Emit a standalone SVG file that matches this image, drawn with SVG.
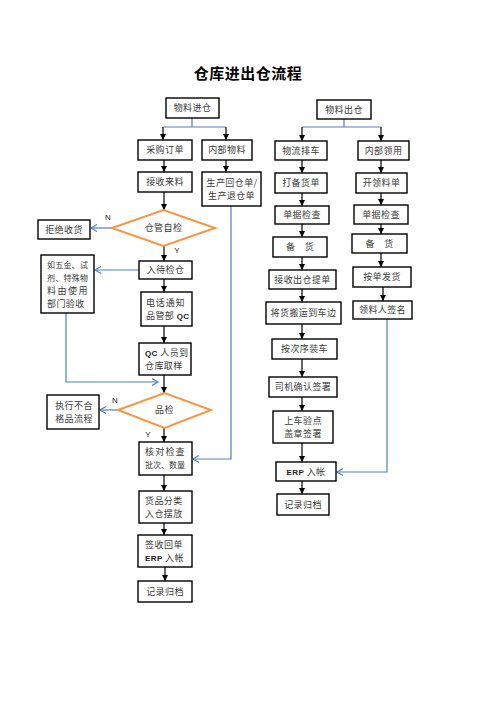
<svg xmlns="http://www.w3.org/2000/svg" width="496" height="702" viewBox="0 0 496 702">
<defs>
<marker id="ab" markerUnits="userSpaceOnUse" markerWidth="7" markerHeight="7" refX="6" refY="3" orient="auto"><path d="M0,0 L6,3 L0,6 z" fill="#000"/></marker>
<marker id="ao" markerUnits="userSpaceOnUse" markerWidth="9" markerHeight="9" refX="6.5" refY="4" orient="auto"><path d="M0.5,0.5 L6.5,4 L0.5,7.5" fill="none" stroke="#4F81BD" stroke-width="1.2"/></marker>
<style>
.node rect{fill:#fff;stroke:#000;stroke-width:1.4}
.dia{fill:#fff;stroke:#F79646;stroke-width:2}
text{font-family:"Noto Sans CJK SC","Noto Sans",sans-serif;font-size:9px;fill:#3a3a3a;text-anchor:middle;letter-spacing:0.4px}
.l{text-anchor:start}
.s{font-size:8px;letter-spacing:0}
.lat{font-family:"Liberation Sans",sans-serif;font-weight:bold;font-size:8px;fill:#222}
.lab{font-family:"Liberation Sans",sans-serif;font-size:8px;fill:#222}
.title{font-size:15px;font-weight:bold;fill:#000;letter-spacing:0.5px}
.k{fill:none;stroke:#000;stroke-width:1.2;marker-end:url(#ab)}
.b{fill:none;stroke:#4F81BD;stroke-width:1.2;marker-end:url(#ao)}
.bl{fill:none;stroke:#4F81BD;stroke-width:1.2}
</style>
</defs>
<rect width="496" height="702" fill="#fff"/>
<text class="title" x="248" y="79">仓库进出仓流程</text>

<g id="connectors">
<path class="bl" d="M192,118 V127 M163,127 H226"/>
<path class="k" d="M163,127 V140"/>
<path class="k" d="M226,127 V140"/>
<path class="k" d="M226,160 V172"/>
<path class="k" d="M164,160 V172"/>
<path class="k" d="M164,192 V210"/>
<path class="k" d="M164,246 V261"/>
<path class="k" d="M164,279 V292"/>
<path class="k" d="M164,326 V343"/>
<path class="k" d="M164,375 V393"/>
<path class="k" d="M164,428 V442"/>
<path class="k" d="M164,475 V491"/>
<path class="k" d="M164,523 V535"/>
<path class="k" d="M165,567 V581"/>
<path class="bl" d="M344,119 V127 M302,127 H381"/>
<path class="k" d="M302,127 V141"/>
<path class="k" d="M381,127 V141"/>
<path class="k" d="M302,160 V173"/>
<path class="k" d="M302,193 V206"/>
<path class="k" d="M302,224 V237"/>
<path class="k" d="M302,257 V270"/>
<path class="k" d="M302,289 V302"/>
<path class="k" d="M302,324 V339"/>
<path class="k" d="M302,359 V377"/>
<path class="k" d="M302,397 V411"/>
<path class="k" d="M302,443 V462"/>
<path class="k" d="M302,481 V494"/>
<path class="k" d="M381,160 V173"/>
<path class="k" d="M381,193 V205"/>
<path class="k" d="M381,224 V234"/>
<path class="k" d="M381,253 V267"/>
<path class="k" d="M383,287 V301"/>
<path class="b" d="M231,206 V459 H193"/>
<path class="b" d="M112,228 H91"/>
<path class="b" d="M139,270 H95"/>
<path class="b" d="M66,313 V382 H158"/>
<path class="b" d="M118,410 H100"/>
<path class="b" d="M387,319 V472 H337"/>
<text class="lab" x="108" y="220">N</text>
<text class="lab" x="177" y="253">Y</text>
<text class="lab" x="115" y="403">N</text>
<text class="lab" x="148" y="437">Y</text>
</g>

<g id="n-wljc" class="node"><rect x="166" y="98" width="53" height="20"/><text x="192.5" y="111.3">物料进仓</text></g>
<g id="n-cgdd" class="node"><rect x="138" y="140" width="54" height="20"/><text x="165" y="153.3">采购订单</text></g>
<g id="n-nbwl" class="node"><rect x="202" y="140" width="50" height="20"/><text x="227" y="153.3">内部物料</text></g>
<g id="n-jsll" class="node"><rect x="138" y="172" width="54" height="20"/><text x="165" y="185.3">接收来料</text></g>
<g id="n-schcd" class="node"><rect x="202" y="172" width="59" height="34"/><text x="232" y="185.5">生产回仓单/</text><text x="231.5" y="198.8">生产退仓单</text></g>
<g id="n-cgzj" class="node"><polygon class="dia" points="112,228 163.5,210 215,228 163.5,246"/><text x="163.5" y="231.3">仓管自检</text></g>
<g id="n-jjsh" class="node"><rect x="38" y="220" width="52" height="19"/><text x="64" y="232.8">拒绝收货</text></g>
<g id="n-rwj" class="node"><rect x="41" y="255" width="53" height="58"/><text class="l s" x="47" y="267.5" textLength="41" lengthAdjust="spacing">如五金、试</text><text class="l s" x="47" y="280.5" textLength="41" lengthAdjust="spacing">剂、特殊物</text><text class="l" x="47" y="293.5" textLength="41" lengthAdjust="spacing">料由使用</text><text class="l" x="47" y="306.5">部门验收</text></g>
<g id="n-rdjc" class="node"><rect x="139" y="261" width="53" height="18"/><text x="165.5" y="273.3">入待检仓</text></g>
<g id="n-dhtz" class="node"><rect x="141" y="292" width="51" height="34"/><text class="l" x="146" y="305.8" textLength="39" lengthAdjust="spacing">电话通知</text><text class="l" x="146" y="318.8">品管部 <tspan class="lat">QC</tspan></text></g>
<g id="n-qcry" class="node"><rect x="139" y="343" width="52" height="32"/><text class="l" x="145" y="355.8"><tspan class="lat">QC</tspan> 人员到</text><text class="l" x="145" y="368.8">仓库取样</text></g>
<g id="n-pj" class="node"><polygon class="dia" points="118,410 164.5,393 211,410 164.5,428"/><text x="164.5" y="413.3">品检</text></g>
<g id="n-zxbh" class="node"><rect x="47" y="395" width="52" height="34"/><text x="74" y="408.8">执行不合</text><text x="74" y="421.8">格品流程</text></g>
<g id="n-hdjc" class="node"><rect x="139" y="442" width="53" height="33"/><text class="l" x="145" y="455.3" textLength="40" lengthAdjust="spacing">核对检查</text><text class="l s" x="145" y="468.3" textLength="40" lengthAdjust="spacing">批次、数量</text></g>
<g id="n-hpfl" class="node"><rect x="139" y="491" width="53" height="32"/><text class="l" x="145" y="503.8">货品分类</text><text class="l" x="145" y="516.8">入仓摆放</text></g>
<g id="n-qshd" class="node"><rect x="138" y="535" width="54" height="32"/><text class="l" x="145" y="548.3" textLength="38" lengthAdjust="spacing">签收回单</text><text class="l" x="145" y="561.3"><tspan class="lat">ERP</tspan> 入帐</text></g>
<g id="n-jlgd1" class="node"><rect x="138" y="581" width="54" height="21"/><text x="165" y="594.5">记录归档</text></g>

<g id="n-wlcc" class="node"><rect x="317" y="100" width="54" height="19"/><text x="344" y="112.8">物料出仓</text></g>
<g id="n-wlpc" class="node"><rect x="275" y="141" width="52" height="19"/><text x="301" y="153.8">物流排车</text></g>
<g id="n-nbly" class="node"><rect x="358" y="141" width="51" height="19"/><text x="383.5" y="153.8">内部领用</text></g>
<g id="n-dbhd" class="node"><rect x="275" y="173" width="52" height="20"/><text x="301" y="186.3">打备货单</text></g>
<g id="n-klld" class="node"><rect x="356" y="173" width="51" height="20"/><text x="381.5" y="186.3">开领料单</text></g>
<g id="n-djjc1" class="node"><rect x="275" y="206" width="54" height="18"/><text x="302" y="218.3">单据检查</text></g>
<g id="n-djjc2" class="node"><rect x="354" y="205" width="54" height="19"/><text x="381" y="217.8">单据检查</text></g>
<g id="n-bh1" class="node"><rect x="273" y="237" width="54" height="20"/><text x="300" y="250.3">备　货</text></g>
<g id="n-bh2" class="node"><rect x="352" y="234" width="55" height="19"/><text x="379.5" y="246.8">备　货</text></g>
<g id="n-jsccd" class="node"><rect x="269" y="270" width="67" height="19"/><text x="302.5" y="282.8">接收出仓提单</text></g>
<g id="n-adfh" class="node"><rect x="353" y="267" width="58" height="20"/><text x="382" y="280.3">按单发货</text></g>
<g id="n-jhby" class="node"><rect x="266" y="302" width="75" height="22"/><text x="303.5" y="316.3">将货搬运到车边</text></g>
<g id="n-llrqm" class="node"><rect x="353" y="301" width="59" height="18"/><text x="382.5" y="313.3">领料人签名</text></g>
<g id="n-acxzc" class="node"><rect x="272" y="339" width="65" height="20"/><text x="304.5" y="352.3">按次序装车</text></g>
<g id="n-sjqr" class="node"><rect x="269" y="377" width="68" height="20"/><text x="303" y="390.3">司机确认签署</text></g>
<g id="n-scyd" class="node"><rect x="273" y="411" width="60" height="32"/><text x="303" y="424.3">上车验点</text><text x="303" y="437.3">盖章签署</text></g>
<g id="n-erp" class="node"><rect x="276" y="462" width="60" height="19"/><text x="306" y="474.8"><tspan class="lat">ERP</tspan> 入帐</text></g>
<g id="n-jlgd2" class="node"><rect x="277" y="494" width="52" height="21"/><text x="303" y="507.8">记录归档</text></g>
</svg>
